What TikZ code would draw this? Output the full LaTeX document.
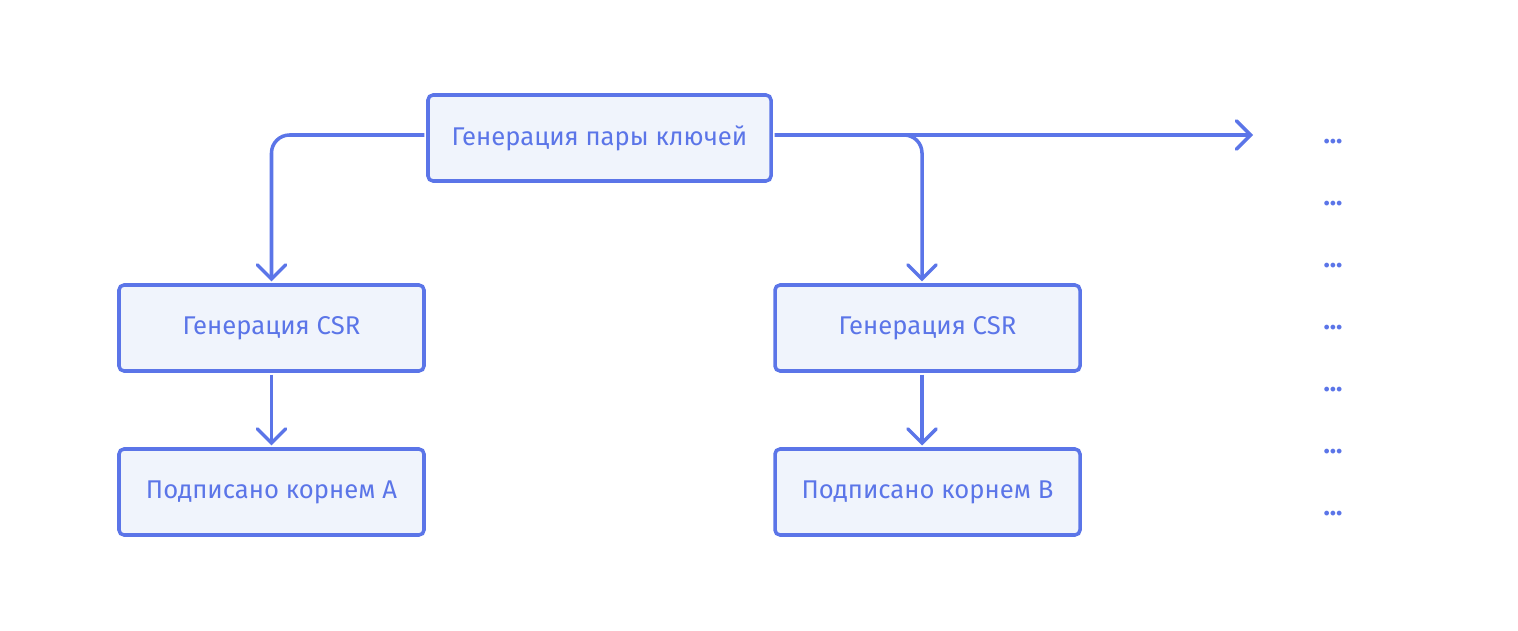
\documentclass[tikz,border=0pt]{standalone}
\usepackage{fontspec}
\setmainfont{Fira Sans}
\usepackage{tikz}
\usetikzlibrary{arrows.meta}
\definecolor{lineblue}{HTML}{5B75E8}
\definecolor{boxfill}{HTML}{F0F4FC}
\tikzset{
box/.style = {rectangle, draw=lineblue, fill=boxfill, line width=2pt,
              rounded corners=0.1cm, text=lineblue, font=\fontsize{14.6}{17}\selectfont,
              minimum width=#1, minimum height=1.72cm, outer sep=2pt},
box/.default = 6.1cm % width of the box
}
\tikzset{
arr/.style = {draw=lineblue, line width=2pt, rounded corners=0.36cm,
              -{Straight Barb[length=8pt, width=16pt, line cap=round]}}
}
\tikzset{
more/.style = {text=lineblue, font=\fontsize{15}{17}\bfseries, inner sep=0pt}
}

\begin{document}
\begin{tikzpicture}
    \useasboundingbox (0,0) rectangle (30.36,12.6);
    \node[box=6.86cm] (keyGen) at (11.99,9.84) {Генерация пары ключей};
    \node[box] (csrA) at (5.43,6.04) {Генерация CSR};
    \node[box] (signA) at (5.43,2.76) {Подписано корнем A};
    \node[box] (csrB) at (18.55,6.04) {Генерация CSR};
    \node[box] (signB) at (18.55,2.76) {Подписано корнем B};
    \coordinate (moreTip) at (25.06,9.9);
    \foreach \i/\y in {1/9.76, 2/8.52, 3/7.28, 4/6.04, 5/4.8, 6/3.56, 7/2.32}
        \node[more] (more\i) at (26.66,\y) {...};

    \draw[arr] ([yshift=0.06cm]keyGen.west) -| (csrA);
    \draw[arr] ([yshift=0.06cm]keyGen.east) -| ([xshift=-0.11cm]csrB.north);
    \draw[arr] ([yshift=0.06cm]keyGen.east) -- (moreTip);
    \draw[arr] (csrA) -- (signA);
    \draw[arr] ([xshift=-0.11cm]csrB.south) -- ([xshift=-0.11cm]signB.north);
\end{tikzpicture}
\end{document}
